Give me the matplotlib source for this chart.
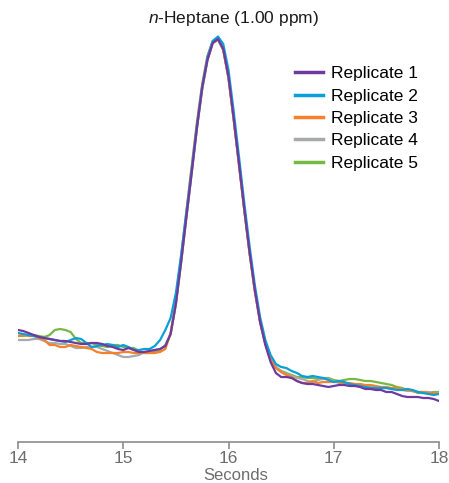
import numpy as np
import matplotlib
matplotlib.use("Agg")
import matplotlib.pyplot as plt

# sampling grid of the chromatogram, seconds
seconds = np.round(np.arange(14.0, 18.0001, 0.05), 2)

# detector response (arbitrary units), one list per replicate
rep1 = [112, 111, 109, 107, 105, 104, 103, 102, 101, 101, 100, 99, 98, 98, 99, 99, 98, 96, 95, 93,
        92, 94, 92, 90, 90, 91, 92, 93,
        96, 108, 138, 180, 225, 269, 314, 354, 382, 399, 403, 393, 365, 323, 278, 233, 190, 152,
        120, 97, 80, 69, 65,
        65, 64, 61, 59, 58, 58, 57, 56, 55, 56, 57, 57, 56, 56, 55, 53, 53, 52, 52, 50,
        50, 48, 46, 45, 45, 45, 44, 44, 43, 41]
rep2 = [109, 108, 107, 106, 105, 104, 103, 102, 101, 100, 102, 104, 103, 99, 95, 96, 97, 98, 97, 95,
        97, 95, 92, 92, 93, 93, 96, 102,
        112, 124, 149, 187, 230, 273, 317, 356, 385, 401, 405.5, 398, 372, 330, 285, 239, 196, 157,
        125, 102, 87, 78, 75,
        74, 71, 69, 66, 65, 66, 65, 64, 62, 60, 61, 60, 58, 57, 56, 55, 54, 54, 54, 54,
        53, 52, 52, 53, 52, 50, 49, 48, 47, 48]
rep3 = [106, 107, 106, 106, 104, 102, 97, 97, 95, 95, 97, 96, 95, 94, 93, 90, 89, 89, 89, 89,
        90, 90, 89, 89, 89, 89, 89, 90,
        93, 109, 142, 186, 231, 276, 320, 358, 386, 401, 404, 393, 364, 322, 277, 232, 189, 151,
        120, 98, 83, 74, 70,
        67, 65, 61, 59, 59, 61, 59, 60, 60, 60, 60, 59, 59, 58, 58, 57, 57, 56, 55, 55,
        54, 54, 53, 52, 51, 50, 50, 49, 49, 48]
rep4 = [102, 102, 102, 103, 103, 101, 99, 99, 98, 98, 96, 94, 94, 95, 95, 95, 93, 91, 89, 87,
        85, 85, 86, 87, 90, 91, 92, 93,
        96, 108, 138, 180, 225, 269, 314, 353, 382, 399, 402.5, 392, 364, 322, 277, 232, 189, 151,
        120, 98, 84, 75, 70,
        68, 66, 64, 63, 61, 60, 62, 63, 63, 61, 59, 59, 58, 57, 57, 56, 55, 55, 54, 54,
        53, 53, 52, 51, 51, 50, 50, 50, 49, 49]
rep5 = [106, 106, 107, 107, 106, 105, 107, 112, 113, 112, 110, 103, 99, 99, 99, 97, 96, 95, 97, 97,
        95, 94, 94, 91, 89, 89, 90, 92,
        97, 108, 138, 180, 225, 269, 314, 353, 382, 399, 402, 392, 364, 322, 277, 232, 189, 152,
        121, 99, 84, 75, 71,
        69, 67, 65, 65, 64, 64, 63, 64, 64, 62, 61, 62, 63, 63, 62, 61, 61, 60, 59, 58,
        57, 55, 54, 52, 51, 49, 49, 49, 50, 50]

labels = ['Replicate 1', 'Replicate 2', 'Replicate 3', 'Replicate 4', 'Replicate 5']
colors = ['#6f3aa0', '#0a9fd8', '#f5822a', '#a7a9ac', '#76b843']
xticks = [14, 15, 16, 17, 18]

plt.rcParams['font.family'] = ['Liberation Sans', 'DejaVu Sans']
plt.rcParams['mathtext.fontset'] = 'custom'
plt.rcParams['mathtext.it'] = 'Liberation Sans:italic'
plt.rcParams['mathtext.rm'] = 'Liberation Sans'

W, H = 449, 483
fig = plt.figure(figsize=(W / 100, H / 100), dpi=100)
ax = fig.add_axes([18 / W, 41 / H, (439 - 18) / W, 412 / H])

# draw in reverse order so Replicate 1 ends on top
series = [rep1, rep2, rep3, rep4, rep5]
for i in [3, 2, 4, 1, 0]:
    ax.plot(seconds, series[i], color=colors[i], lw=1.6, label=labels[i], zorder=3 + (4 - i))

ax.set_xlim(14, 18)
ax.set_ylim(0, 412)
ax.set_yticks([])
for s in ['top', 'right', 'left']:
    ax.spines[s].set_visible(False)
ax.spines['bottom'].set_color('#8c8c8c')
ax.spines['bottom'].set_linewidth(1.2)
ax.set_xticks(xticks)
ax.set_xticklabels([str(t) for t in xticks])
ax.tick_params(axis='x', direction='out', length=5, width=1.2, color='#8c8c8c',
               labelcolor='#6d6d6d', labelsize=12.5, pad=1.5)

fig.text(236 / W, 1 - 475 / H, 'Seconds', ha='center', va='center', fontsize=12, color='#6d6d6d')
fig.text(233.5 / W, 1 - 19 / H, r'$n$-Heptane (1.00 ppm)', ha='center', va='center',
         fontsize=12.5, color='#1a1a1a')

handles, labs = ax.get_legend_handles_labels()
order = [labs.index(l) for l in labels]
ax.legend([handles[k] for k in order], labels, loc='upper left',
          bbox_to_anchor=(295 / W, 1 - 66 / H), bbox_transform=fig.transFigure,
          frameon=False, borderpad=0, borderaxespad=0, fontsize=12.5,
          handlelength=1.6, handletextpad=0.45, labelspacing=0.42)
for h in ax.get_legend().get_lines():
    h.set_linewidth(2.5)

fig.savefig('out.png', dpi=100)
